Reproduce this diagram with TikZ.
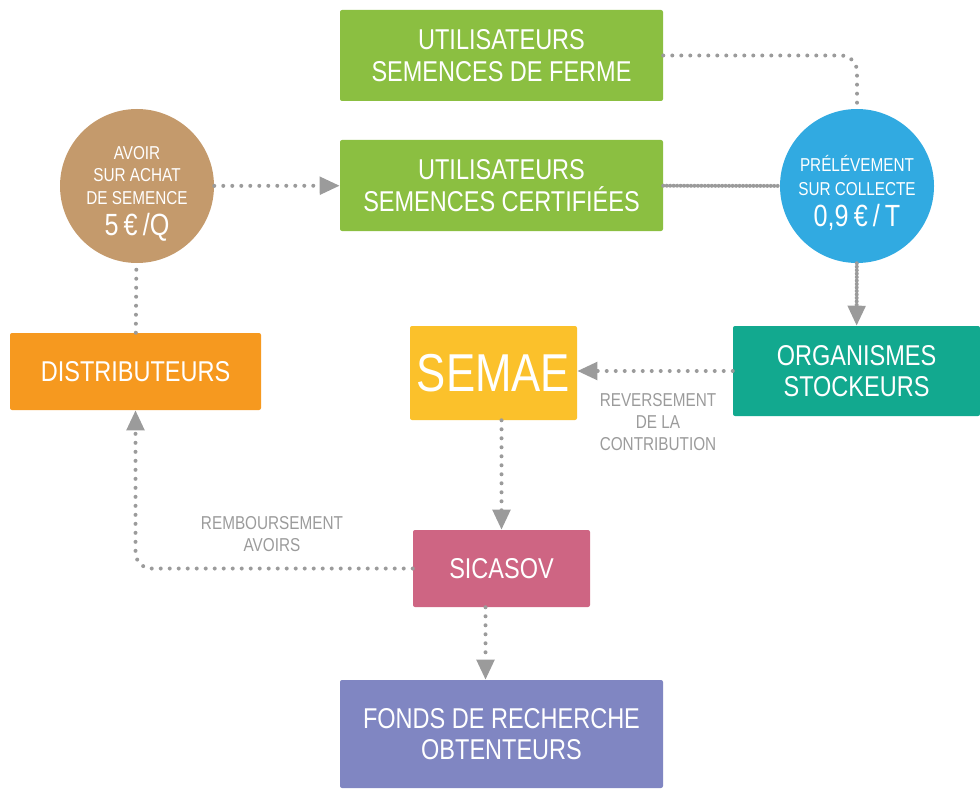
\documentclass[tikz,border=0pt]{standalone}
\usepackage{fontspec}
\setmainfont[FakeStretch=0.82]{Liberation Sans}
\usetikzlibrary{arrows.meta}

\definecolor{vert}{HTML}{8BBF41}
\definecolor{brun}{HTML}{C49A6C}
\definecolor{bleu}{HTML}{31AAE1}
\definecolor{orange}{HTML}{F6991F}
\definecolor{jaune}{HTML}{FBC12B}
\definecolor{turquoise}{HTML}{12A98F}
\definecolor{rose}{HTML}{CE6583}
\definecolor{violet}{HTML}{8086C2}
\definecolor{gris}{HTML}{9B9B9B}

\tikzset{
	box/.style={rectangle, rounded corners=1.5pt, text=white, align=center, inner sep=0pt},
	rond/.style={circle, minimum size=115.5pt, text=white, align=center, inner sep=0pt},
	bigtext/.style={font=\fontsize{21.5}{23.5}\selectfont},
	smalltext/.style={font=\fontsize{14}{17}\selectfont},
	note/.style={text=gris, align=center, font=\fontsize{14}{16.5}\selectfont},
	link/.style={draw=gris, line width=3pt, line cap=round, dash pattern=on 0pt off 6.75pt},
	dense/.style={draw=gris, line width=3pt, line cap=round, dash pattern=on 0pt off 2.6pt},
	tip/.style={-{Triangle[length=15pt,width=13pt]}, gris},
}

\begin{document}
\begin{tikzpicture}[x=0.75pt, y=-0.75pt]
			%%%%% START %%%%%
			\useasboundingbox (0, 0) rectangle (980, 788);
			
			\node[box, fill=vert, bigtext, minimum width=242.25pt, minimum height=68.25pt] (ferme) at (501.5, 55.5) {UTILISATEURS\\SEMENCES DE FERME};
			\node[box, fill=vert, bigtext, minimum width=242.25pt, minimum height=68.25pt] (certif) at (501.5, 185.5) {UTILISATEURS\\SEMENCES CERTIFIÉES};
			
			\node[rond, fill=brun, smalltext] (avoir) at (137, 186) {\rule{0pt}{21pt}AVOIR\\SUR ACHAT\\DE SEMENCE\\[6pt]{\fontsize{23}{25}\selectfont 5\,€\,/Q}};
			\node[rond, fill=bleu, font=\fontsize{14}{18}\selectfont] (prelev) at (857, 186) {\rule{0pt}{22pt}PRÉLÉVEMENT\\SUR COLLECTE\\[5pt]{\fontsize{23}{25}\selectfont 0,9\,€\,/\,T}};
			
			\node[box, fill=orange, bigtext, minimum width=188.25pt, minimum height=57.75pt] (distrib) at (135.5, 371.5) {DISTRIBUTEURS};
			\node[box, fill=jaune, font=\fontsize{40}{44}\selectfont, minimum width=125.25pt, minimum height=70.5pt] (semae) at (493.5, 373) {SEMAE};
			\node[box, fill=turquoise, bigtext, minimum width=185.25pt, minimum height=67.5pt] (stock) at (856.5, 371) {ORGANISMES\\STOCKEURS};
			\node[box, fill=rose, bigtext, minimum width=132.75pt, minimum height=57.75pt] (sicasov) at (501.5, 568.5) {SICASOV};
			\node[box, fill=violet, bigtext, minimum width=242.25pt, minimum height=81pt] (fonds) at (501.5, 734) {FONDS DE RECHERCHE\\OBTENTEURS};
			
			\node[note] (reversement) at (658, 422) {REVERSEMENT\\DE LA\\CONTRIBUTION};
			\node[note] (remboursement) at (272, 534) {REMBOURSEMENT\\AVOIRS};
			
			\draw[link, tip] (avoir) -- (certif);
			\draw[link, rounded corners=12pt] (ferme.east) -| (prelev.north);
			\draw[dense] (certif) -- (prelev);
			\draw[dense, tip] (prelev) -- (stock);
			\draw[link, tip] (stock.west) -- (stock.west -| semae.east);
			\draw[link, tip] (semae.south -| sicasov.north) -- (sicasov.north);
			\draw[link, tip, rounded corners=12pt] (sicasov.west) -| (distrib.south);
			\draw[link] (distrib) -- (avoir);
			\draw[link, tip] ([xshift=-12pt]sicasov.south) -- ([xshift=-12pt]fonds.north);
			
			%%%%% END %%%%%
		\end{tikzpicture}
\end{document}
